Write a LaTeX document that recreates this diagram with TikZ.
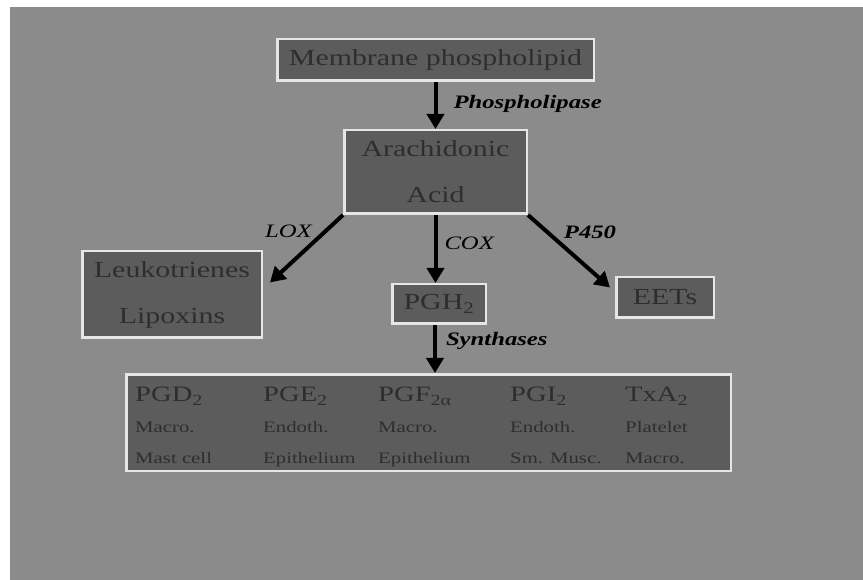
\documentclass[tikz,border=0pt]{standalone}
\usepackage{fontspec}
\setmainfont{Liberation Serif}
\usepackage{graphicx}
\usepackage{tikz}
\usetikzlibrary{arrows.meta}
\usetikzlibrary{positioning,calc}
\definecolor{slide}{HTML}{8B8B8B}
\definecolor{boxfill}{HTML}{5C5C5C}
\definecolor{boxline}{HTML}{E6E6E6}
\definecolor{boxtext}{HTML}{2E2E2E}
\newcommand{\wide}[1]{\scalebox{1.3}[1]{#1}}
\tikzset{
 pbox/.style={draw=boxline, line width=2.5pt, fill=boxfill, text=boxtext, inner sep=0pt, align=center, font=\fontsize{23}{46}\selectfont},
 flow/.style={black, line width=4pt, -{Triangle[width=17pt,length=15pt]}},
 enz/.style={inner sep=0pt, font=\fontsize{19}{19}\selectfont\bfseries\itshape},
 enzi/.style={inner sep=0pt, font=\fontsize{19}{19}\selectfont\itshape},
 cell/.style={text=boxtext, inner sep=0pt, anchor=base west}
}

\begin{document}
\begin{tikzpicture}[x=1pt,y=-1pt]
\useasboundingbox (0,0) rectangle (863,580);
\fill[white] (0,0) rectangle (863,580);
\fill[slide] (10,7) rectangle (863,580);

\node[pbox, minimum width=316.5, minimum height=41.5] (memb) at (435.5,60) {\wide{Membrane phospholipid}};
\node[pbox, minimum width=182.5, minimum height=83.5] (arach) at (435.5,172) {\raisebox{-3pt}{\wide{Arachidonic}}\\\raisebox{-3pt}{\wide{Acid}}};
\node[pbox, minimum width=179.5, minimum height=86.5] (leuko) at (172,294.5) {\wide{Leukotrienes}\\\wide{Lipoxins}};
\node[pbox, minimum width=93.5, minimum height=39.5] (pgh) at (439,304) {\wide{PGH\textsubscript{2}}};
\node[pbox, minimum width=97.5, minimum height=40.5] (eets) at (665,297.5) {\wide{EETs}};
\node[pbox, minimum width=604.5, minimum height=96.5] (prod) at (428.5,422.5) {};

\draw[flow] (memb) -- (arach) node[midway, right=16pt, yshift=2pt, enz] (phlase) {\wide{Phospholipase}};
\draw[flow] (arach.south west) -- ([xshift=7pt,yshift=12pt]leuko.east) node[midway, xshift=-18pt, yshift=17pt, enzi] (lox) {\wide{LOX}};
\draw[flow] (arach.south) -- (arach.south |- pgh.north) node[midway, right=7pt, yshift=6pt, enzi] (cox) {\wide{COX}};
\draw[flow] (arach.south east) -- ([xshift=-5pt,yshift=10pt]eets.west) node[midway, xshift=21pt, yshift=19pt, enz] (cyp) {\wide{P450}};
\draw[flow] ([xshift=-4pt]pgh.south) -- ([xshift=-4pt]pgh.south |- prod.north) node[midway, right=9pt, yshift=8pt, enz] (synth) {\wide{Synthases}};

\foreach \x/\pg/\ca/\cb [count=\i] in {135/PGD\textsubscript{2}/Macro./Mast cell,
 263/PGE\textsubscript{2}/Endoth./Epithelium,
 378/PGF\textsubscript{2α}/Macro./Epithelium,
 510/PGI\textsubscript{2}/Endoth./Sm. Musc.,
 625/TxA\textsubscript{2}/Platelet/Macro.} {
 \node[cell, font=\fontsize{22}{22}\selectfont] (pg\i) at (\x,402) {\wide{\pg}};
 \node[cell, font=\fontsize{16}{16}\selectfont] (ca\i) at (\x,432) {\wide{\ca}};
 \node[cell, font=\fontsize{16}{16}\selectfont] (cb\i) at (\x,463) {\wide{\cb}};
}
\end{tikzpicture}
\end{document}
